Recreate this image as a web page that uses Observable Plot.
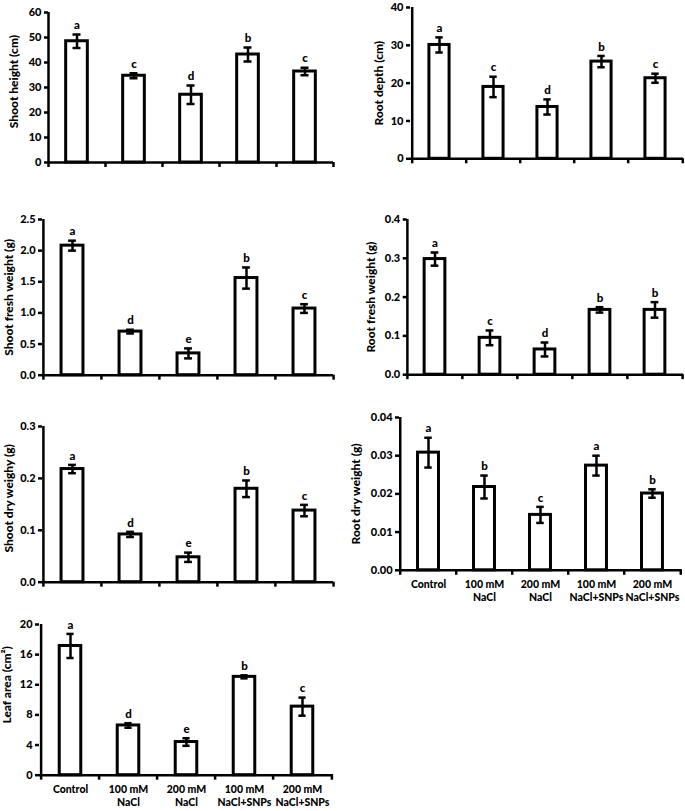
<!DOCTYPE html>
<html>
<head>
<meta charset="utf-8">
<script src="https://cdn.jsdelivr.net/npm/d3@7"></script>
<script src="https://cdn.jsdelivr.net/npm/@observablehq/plot@0.6"></script>
<style>
  body { margin: 0; background: #fff; }
  #wrap { position: relative; width: 685px; height: 811px; overflow: hidden; background: #fff; }
  #wrap svg { position: absolute; overflow: visible; }
</style>
</head>
<body>
<div id="wrap"></div>
<script>
// ---- Data ----
const categories = ["Control", "100 mM NaCl", "200 mM NaCl", "100 mM NaCl+SNPs", "200 mM NaCl+SNPs"];
const categoryLabels = ["Control", "100 mM\nNaCl", "200 mM\nNaCl", "100 mM\nNaCl+SNPs", "200 mM\nNaCl+SNPs"];

const shootHeight = [48.5, 34.7, 27.1, 43.2, 36.4];
const shootHeightErr = [2.7, 1.0, 3.7, 2.8, 1.5];
const shootHeightLetters = ["a", "c", "d", "b", "c"];

const rootDepth = [30.1, 19.0, 13.7, 25.7, 21.3];
const rootDepthErr = [2.0, 2.7, 2.0, 1.5, 1.2];
const rootDepthLetters = ["a", "c", "d", "b", "c"];

const shootFresh = [2.08, 0.70, 0.35, 1.56, 1.07];
const shootFreshErr = [0.08, 0.03, 0.08, 0.17, 0.07];
const shootFreshLetters = ["a", "d", "e", "b", "c"];

const rootFresh = [0.298, 0.095, 0.065, 0.167, 0.167];
const rootFreshErr = [0.017, 0.019, 0.018, 0.007, 0.020];
const rootFreshLetters = ["a", "c", "d", "b", "b"];

const shootDry = [0.218, 0.092, 0.048, 0.180, 0.138];
const shootDryErr = [0.008, 0.005, 0.009, 0.016, 0.011];
const shootDryLetters = ["a", "d", "e", "b", "c"];

const rootDry = [0.0308, 0.0218, 0.0145, 0.0274, 0.0201];
const rootDryErr = [0.0039, 0.0030, 0.0021, 0.0026, 0.0011];
const rootDryLetters = ["a", "b", "c", "a", "b"];

const leafArea = [17.15, 6.6, 4.4, 13.05, 9.1];
const leafAreaErr = [1.6, 0.3, 0.5, 0.2, 1.2];
const leafAreaLetters = ["a", "d", "e", "b", "c"];

const ticksShootHeight = [0, 10, 20, 30, 40, 50, 60];
const ticksRootDepth = [0, 10, 20, 30, 40];
const ticksShootFresh = [0, 0.5, 1.0, 1.5, 2.0, 2.5];
const ticksRootFresh = [0, 0.1, 0.2, 0.3, 0.4];
const ticksShootDry = [0, 0.1, 0.2, 0.3];
const ticksRootDry = [0, 0.01, 0.02, 0.03, 0.04];
const ticksLeafArea = [0, 4, 8, 12, 16, 20];

// ---- Panels ----
const panels = [
  {vals: shootHeight, errs: shootHeightErr, letters: shootHeightLetters, ticks: ticksShootHeight, fmt: ".0f",
   title: "Shoot height (cm)", colLeft: 0, axisX: 48, yTop: 12, yBot: 162, xRight: 333, labelX: 14, labelDy: -6, xLabels: false},
  {vals: rootDepth, errs: rootDepthErr, letters: rootDepthLetters, ticks: ticksRootDepth, fmt: ".0f",
   title: "Root depth (cm)", colLeft: 340, axisX: 410, yTop: 6.7, yBot: 158, xRight: 683, labelX: 379, labelDy: 0, xLabels: false},
  {vals: shootFresh, errs: shootFreshErr, letters: shootFreshLetters, ticks: ticksShootFresh, fmt: ".1f",
   title: "Shoot fresh weight (g)", colLeft: 0, axisX: 42, yTop: 219.3, yBot: 375, xRight: 333, labelX: 9, labelDy: 0, xLabels: false},
  {vals: rootFresh, errs: rootFreshErr, letters: rootFreshLetters, ticks: ticksRootFresh, fmt: ".1f",
   title: "Root fresh weight (g)", colLeft: 340, axisX: 406.7, yTop: 219.3, yBot: 374.5, xRight: 683, labelX: 371, labelDy: 0, xLabels: false},
  {vals: shootDry, errs: shootDryErr, letters: shootDryLetters, ticks: ticksShootDry, fmt: ".1f",
   title: "Shoot dry weighy (g)", colLeft: 0, axisX: 42, yTop: 426, yBot: 581.7, xRight: 333, labelX: 9, labelDy: -6, xLabels: false},
  {vals: rootDry, errs: rootDryErr, letters: rootDryLetters, ticks: ticksRootDry, fmt: ".2f",
   title: "Root dry weight (g)", colLeft: 340, axisX: 399, yTop: 416.7, yBot: 569.5, xRight: 681.7, labelX: 356, labelDy: 0, xLabels: true},
  {vals: leafArea, errs: leafAreaErr, letters: leafAreaLetters, ticks: ticksLeafArea, fmt: ".0f",
   title: "Leaf area (cm²)", colLeft: 0, axisX: 39, yTop: 624.3, yBot: 775, xRight: 333, labelX: 7, labelDy: -15, xLabels: true}
];

const wrap = document.getElementById("wrap");
const FONT = "Lato, 'Open Sans', sans-serif";

for (const p of panels) {
  const rows = categories.map((c, i) => ({
    cat: c, label: categoryLabels[i], value: p.vals[i],
    lo: p.vals[i] - p.errs[i], hi: p.vals[i] + p.errs[i], letter: p.letters[i]
  }));
  const yMax = p.ticks[p.ticks.length - 1];
  const marginTop = 10;
  const marginBottom = p.xLabels ? 45 : 10;
  const marginRight = 4;
  const svgTop = p.yTop - marginTop;
  const height = p.yBot - svgTop + marginBottom;
  const width = p.xRight - p.colLeft + marginRight;
  const marginLeft = p.axisX - p.colLeft;
  const step = (width - marginLeft - marginRight) / categories.length;
  const barInset = step * 0.31;
  const capInset = step / 2 - 4;

  const marks = [
    Plot.barY(rows, {x: "cat", y: "value", fill: "white", stroke: "black", strokeWidth: 3,
      insetLeft: barInset, insetRight: barInset}),
    Plot.ruleX(rows, {x: "cat", y1: "lo", y2: "hi", stroke: "black", strokeWidth: 2.5}),
    Plot.tickY(rows, {x: "cat", y: "hi", stroke: "black", strokeWidth: 2.5, insetLeft: capInset, insetRight: capInset}),
    Plot.tickY(rows, {x: "cat", y: "lo", stroke: "black", strokeWidth: 2.5, insetLeft: capInset, insetRight: capInset}),
    Plot.text(rows, {x: "cat", y: "hi", text: "letter", dy: -9, fontSize: 11.5, fontWeight: 900, fill: "black"}),
    Plot.axisY({ticks: p.ticks, tickFormat: d3.format(p.fmt), tickSize: 4, tickPadding: 3, strokeWidth: 2.5,
      label: null, fontSize: 11, fontWeight: 900}),
    // y axis line
    Plot.ruleX([categories[0]], {x: d => d, y1: 0, y2: yMax, dx: -step / 2, stroke: "black", strokeWidth: 2.5}),
    // x axis line
    Plot.ruleY([0], {stroke: "black", strokeWidth: 2.5}),
    // x-axis boundary ticks
    Plot.ruleX(categories, {x: d => d, y1: 0, y2: 0, dx: -step / 2, insetBottom: -5, stroke: "black", strokeWidth: 2.5}),
    Plot.ruleX([categories[categories.length - 1]], {x: d => d, y1: 0, y2: 0, dx: step / 2, insetBottom: -5, stroke: "black", strokeWidth: 2.5}),
    // y title
    Plot.text([p.title], {text: d => d, frameAnchor: "left", rotate: -90, dx: p.labelX - p.axisX, dy: p.labelDy,
      fontSize: 12, fontWeight: 900, fill: "black", textAnchor: "middle"})
  ];
  if (p.xLabels) {
    marks.push(Plot.text(rows, {x: "cat", text: "label", frameAnchor: "bottom", dy: 9, lineAnchor: "top",
      lineHeight: 1.2, fontSize: 10.5, fontWeight: 900, fill: "black"}));
  }

  const svg = Plot.plot({
    width, height, marginTop, marginBottom, marginLeft, marginRight,
    style: {fontFamily: FONT, fontSize: "11px", fontWeight: "900", color: "black", background: "transparent", overflow: "visible"},
    x: {domain: categories, padding: 0, axis: null},
    y: {domain: [0, yMax], axis: null},
    marks
  });
  svg.style.left = p.colLeft + "px";
  svg.style.top = svgTop + "px";
  wrap.appendChild(svg);
}
</script>
</body>
</html>
